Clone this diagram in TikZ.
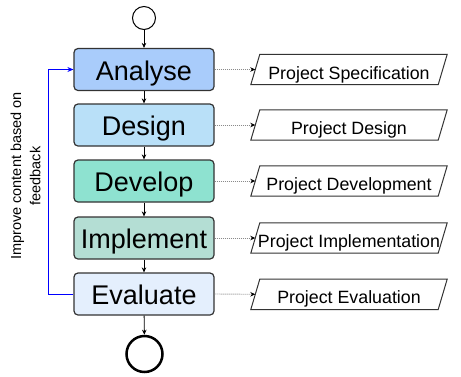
\documentclass[tikz,border=0pt]{standalone}
\usepackage{fontspec}
\setmainfont{Liberation Sans}
\usetikzlibrary{arrows.meta}

\definecolor{fillAnalyse}{HTML}{A9CCFB}
\definecolor{fillDesign}{HTML}{B9E0F8}
\definecolor{fillDevelop}{HTML}{8EE2D0}
\definecolor{fillImplement}{HTML}{B4DED4}
\definecolor{fillEvaluate}{HTML}{E4EFFD}
\definecolor{edgegray}{HTML}{333333}
\definecolor{dotgray}{HTML}{8A8A8A}

\begin{document}
\begin{tikzpicture}[x=1pt,y=-1pt,
  stage/.style={draw=edgegray, line width=1.2pt, rounded corners=4pt,
    minimum width=140pt, minimum height=42pt, inner sep=0pt,
    text height=21.4pt, text depth=0pt,
    font=\fontsize{27}{32}\selectfont},
  product/.style={minimum width=187pt, minimum height=30pt, inner sep=0pt,
    text height=19.2pt, text depth=0pt,
    font=\fontsize{17.8}{21}\selectfont},
  productframe/.style={draw=edgegray, line width=1pt, line join=miter},
  flow/.style={draw=black, line width=0.9pt, -{Stealth[length=5pt,width=4.5pt]}},
  yields/.style={draw=dotgray, line width=0.9pt, dash pattern=on 1pt off 1pt,
    -{Stealth[length=5pt,width=4.5pt,black]}},
  feedback/.style={draw=blue, line width=0.9pt, -{Stealth[length=6pt,width=5pt]}},
  terminal/.style={circle, draw=black, inner sep=0pt}
]
\useasboundingbox (0,0) rectangle (461,376);

% start and end markers
\node[terminal, minimum size=23pt, line width=1pt] (start) at (144,18) {};
\node[terminal, minimum size=36pt, line width=2.5pt] (finish) at (144.5,354) {};

% process stages
\node[stage, fill=fillAnalyse]   (s1) at (144,69.5)  {Analyse};
\node[stage, fill=fillDesign]    (s2) at (144,125) {Design};
\node[stage, fill=fillDevelop]   (s3) at (144,181) {Develop};
\node[stage, fill=fillImplement] (s4) at (144,238) {Implement};
\node[stage, fill=fillEvaluate]  (s5) at (144,294) {Evaluate};

% deliverables
\node[product] (p1) at (349,69.5)  {Project Specification};
\node[product] (p2) at (349,125) {Project Design};
\node[product] (p3) at (349,181) {Project Development};
\node[product] (p4) at (349,238) {Project Implementation};
\node[product] (p5) at (349,294.3) {Project Evaluation};

% slanted frames round the deliverables
\foreach \p in {p1,p2,p3,p4,p5}{
  \draw[productframe] ([xshift=4.5pt]\p.north west) -- ([xshift=4.5pt]\p.north east)
    -- ([xshift=-4.5pt]\p.south east) -- ([xshift=-4.5pt]\p.south west) -- cycle;
}

% main flow
\draw[flow] (start) -- (s1);
\draw[flow] (s1) -- (s2);
\draw[flow] (s2) -- (s3);
\draw[flow] (s3) -- (s4);
\draw[flow] (s4) -- (s5);
\draw[flow] (s5) -- (finish);

% stage outputs
\foreach \i in {1,...,5}{
  \draw[yields] (s\i.east) -- (p\i.west);
}

% feedback loop
\draw[feedback] (s5.west) -- ++(-24.5,0) |- (s1.west);
\node[rotate=90, align=center, font=\fontsize{14.5}{19.3}\selectfont] (fbl) at (25.5,176)
  {Improve content based on\\feedback};
\end{tikzpicture}
\end{document}
